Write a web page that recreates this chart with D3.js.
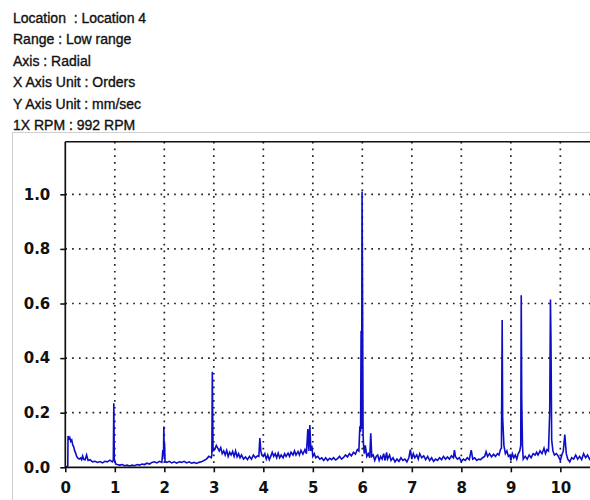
<!DOCTYPE html>
<html>
<head>
<meta charset="utf-8">
<script src="https://cdn.jsdelivr.net/npm/d3@7"></script>
<style>
  html, body { margin: 0; padding: 0; background: #fff; }
  svg { display: block; }
</style>
</head>
<body>
<svg id="chart" width="590" height="500"></svg>
<script>
// Header lines shown above the spectrum
const headerLines = [
  "Location  : Location 4",
  "Range : Low range",
  "Axis : Radial",
  "X Axis Unit : Orders",
  "Y Axis Unit : mm/sec",
  "1X RPM : 992 RPM"
];

// Axis ticks
const xTicks = [0, 1, 2, 3, 4, 5, 6, 7, 8, 9, 10];
const yTicks = [0.0, 0.2, 0.4, 0.6, 0.8, 1.0];

// Velocity spectrum, [order, amplitude mm/sec], split by band
const band0 = [
  [0.00,0.000],[0.03,0.002],[0.05,0.005],[0.055,0.115],[0.07,0.105],[0.09,0.11],[0.11,0.095],
  [0.13,0.1],[0.15,0.082],[0.17,0.075],[0.19,0.06],[0.21,0.052],[0.23,0.04],[0.25,0.034],
  [0.28,0.03],[0.31,0.034],[0.33,0.028],[0.35,0.041],[0.37,0.03],[0.4,0.027],[0.43,0.045],
  [0.46,0.025],[0.5,0.028],[0.55,0.02],[0.6,0.022],[0.65,0.018],[0.7,0.021],[0.75,0.016],
  [0.8,0.022],[0.85,0.02],[0.9,0.026],[0.95,0.02],[0.97,0.025],[0.98,0.235],[0.99,0.03],
  [1.02,0.012],[1.05,0.01],[1.1,0.008],[1.15,0.01],[1.2,0.006],[1.25,0.008],[1.3,0.005],
  [1.35,0.008],[1.4,0.006],[1.45,0.01],[1.5,0.008],[1.55,0.012],[1.6,0.01],[1.65,0.015],
  [1.7,0.012],[1.75,0.018],[1.8,0.02],[1.85,0.016],[1.9,0.022],[1.95,0.018],[1.97,0.06],
  [1.985,0.06],[1.99,0.149],[2.0,0.03],[2.005,0.09],[2.015,0.02]
];
const band1 = [
  [2.05,0.018],[2.1,0.022],[2.15,0.016],[2.2,0.02],[2.25,0.015],[2.3,0.02],[2.35,0.018],
  [2.4,0.022],[2.45,0.016],[2.5,0.02],[2.55,0.015],[2.6,0.018],[2.65,0.014],[2.7,0.018],
  [2.75,0.02],[2.8,0.025],[2.85,0.03],[2.9,0.04],[2.95,0.035],[2.96,0.045],[2.97,0.35],
  [2.985,0.06],[3.02,0.065],[3.05,0.08],[3.08,0.07],[3.11,0.06],[3.14,0.072],[3.17,0.05],
  [3.2,0.06],[3.23,0.045],[3.26,0.062],[3.29,0.04],[3.32,0.055],[3.35,0.045],[3.38,0.058],
  [3.41,0.04],[3.44,0.06],[3.47,0.038],[3.5,0.05],[3.53,0.035],[3.56,0.045],[3.6,0.03],
  [3.64,0.038],[3.68,0.028],[3.72,0.04],[3.76,0.03],[3.8,0.045],[3.84,0.035],[3.88,0.042],
  [3.91,0.04],[3.93,0.107],[3.95,0.06],[3.97,0.045],[4.0,0.04]
];
const band2 = [
  [4.03,0.05],[4.06,0.03],[4.09,0.045],[4.12,0.028],[4.15,0.04],[4.18,0.055],[4.21,0.04],
  [4.24,0.05],[4.27,0.035],[4.3,0.052],[4.33,0.035],[4.36,0.045],[4.4,0.035],[4.43,0.05],
  [4.46,0.04],[4.5,0.052],[4.53,0.04],[4.56,0.055],[4.6,0.045],[4.63,0.06],[4.66,0.045],
  [4.7,0.058],[4.73,0.045],[4.76,0.062],[4.8,0.048],[4.84,0.065],[4.87,0.05],[4.9,0.14],
  [4.92,0.06],[4.94,0.155],[4.96,0.06],[4.98,0.08],[5.0,0.04],[5.03,0.05],[5.06,0.035],
  [5.1,0.04],[5.14,0.03],[5.18,0.035],[5.22,0.025],[5.26,0.035],[5.3,0.025],[5.34,0.033],
  [5.38,0.028],[5.42,0.035],[5.46,0.027],[5.5,0.032],[5.54,0.04],[5.58,0.03],[5.62,0.036],
  [5.66,0.045],[5.7,0.038],[5.74,0.05],[5.78,0.042],[5.82,0.055],[5.86,0.048],[5.9,0.065],
  [5.93,0.06],[5.95,0.15],[5.965,0.13],[5.975,0.5],[5.985,0.14],[5.995,1.01],[6.005,0.58],
  [6.015,0.12],[6.025,0.08],[6.04,0.05],[6.06,0.08],[6.09,0.04],[6.12,0.05],[6.15,0.035],
  [6.17,0.125],[6.19,0.04],[6.22,0.045],[6.25,0.025],[6.28,0.04],[6.31,0.045],[6.34,0.025],
  [6.37,0.04],[6.4,0.03],[6.43,0.05],[6.46,0.025],[6.49,0.055],[6.51,0.03]
];
const band3 = [
  [6.55,0.045],[6.58,0.025],[6.62,0.035],[6.66,0.02],[6.7,0.03],[6.74,0.022],[6.78,0.035],
  [6.82,0.025],[6.86,0.03],[6.9,0.02],[6.94,0.035],[6.97,0.065],[7.0,0.03],[7.03,0.05],
  [7.06,0.035],[7.1,0.045],[7.13,0.03],[7.16,0.05],[7.2,0.035],[7.24,0.042],[7.28,0.028],
  [7.32,0.04],[7.36,0.025],[7.4,0.035],[7.44,0.022],[7.48,0.03],[7.52,0.025],[7.56,0.035],
  [7.6,0.028],[7.64,0.04],[7.68,0.03],[7.72,0.038],[7.76,0.03],[7.8,0.042],[7.84,0.035],
  [7.86,0.063],[7.88,0.04],[7.92,0.03],[7.96,0.035],[8.0,0.022],[8.04,0.03],[8.08,0.025],
  [8.12,0.035],[8.16,0.028],[8.2,0.063],[8.23,0.03],[8.27,0.035],[8.31,0.025],[8.35,0.03],
  [8.39,0.028],[8.43,0.035],[8.47,0.04],[8.5,0.057]
];
const band4 = [
  [8.53,0.04],[8.57,0.05],[8.61,0.038],[8.65,0.048],[8.69,0.04],[8.73,0.05],[8.76,0.045],
  [8.79,0.065],[8.81,0.07],[8.825,0.54],[8.835,0.18],[8.86,0.08],[8.89,0.05],[8.92,0.06],
  [8.95,0.04],[8.98,0.045],[9.0,0.025],[9.03,0.05],[9.06,0.035],[9.09,0.045],[9.12,0.03],
  [9.15,0.05],[9.18,0.06],[9.2,0.08],[9.21,0.63],[9.22,0.25],[9.235,0.08],[9.25,0.03],
  [9.29,0.04],[9.33,0.03],[9.37,0.045],[9.41,0.035],[9.45,0.05],[9.49,0.045],[9.52,0.055],
  [9.55,0.045],[9.59,0.06],[9.63,0.05],[9.67,0.07],[9.7,0.05],[9.73,0.065],[9.76,0.06],
  [9.785,0.2],[9.8,0.615],[9.81,0.48],[9.825,0.1],[9.85,0.06],[9.88,0.045],[9.92,0.05],
  [9.96,0.04],[10.0,0.025],[10.03,0.045],[10.06,0.06],[10.09,0.12],[10.12,0.05],[10.15,0.03],
  [10.19,0.02],[10.23,0.035],[10.27,0.03],[10.31,0.045],[10.35,0.03],[10.39,0.04],[10.43,0.028],
  [10.47,0.05],[10.51,0.035],[10.55,0.045],[10.59,0.03],[10.63,0.04],[10.67,0.035],[10.71,0.04]
];
const spectrum = [...band0, ...band1, ...band2, ...band3, ...band4];

const svg = d3.select("#chart");
const W = 590, H = 500;
svg.append("rect").attr("width", W).attr("height", H).attr("fill", "#fff");

// Header block
svg.append("g")
  .selectAll("text")
  .data(headerLines)
  .join("text")
  .attr("x", 13)
  .attr("y", (d, i) => 22.5 + i * 21.5)
  .attr("font-family", "'Liberation Sans', Arial, sans-serif")
  .attr("font-size", 14)
  .attr("fill", "#111")
  .attr("stroke", "#111")
  .attr("stroke-width", 0.35)
  .style("white-space", "pre")
  .text(d => d);

// Light panel frame around the plot
svg.append("rect")
  .attr("x", 12.5).attr("y", 132.5)
  .attr("width", 700).attr("height", 500)
  .attr("fill", "none")
  .attr("stroke", "#cfcfcf")
  .attr("stroke-width", 1);

const plotLeft = 65.3, plotTop = 141.7, plotBottom = 467.3, plotRight = 595;
const x = d3.scaleLinear().domain([0, 10.7]).range([plotLeft, plotRight]);
const y = d3.scaleLinear().domain([0, 1.1927]).range([plotBottom, plotTop]);

// Dotted grid
const grid = svg.append("g")
  .attr("stroke", "#222")
  .attr("stroke-width", 1.7)
  .attr("stroke-dasharray", "1.7,5.1");
grid.selectAll("line.h")
  .data(yTicks.filter(d => d > 0))
  .join("line")
  .attr("class", "h")
  .attr("x1", plotLeft).attr("x2", W)
  .attr("y1", d => y(d)).attr("y2", d => y(d));
grid.selectAll("line.v")
  .data(xTicks.filter(d => d > 0))
  .join("line")
  .attr("class", "v")
  .attr("x1", d => x(d)).attr("x2", d => x(d))
  .attr("y1", plotTop).attr("y2", plotBottom);

// Spectrum trace
const line = d3.line()
  .x(d => x(d[0]))
  .y(d => y(d[1]));
svg.append("path")
  .datum(spectrum)
  .attr("d", line)
  .attr("fill", "none")
  .attr("stroke", "#0e0ec8")
  .attr("stroke-width", 1.6)
  .attr("stroke-linejoin", "miter");

// Top frame line
svg.append("line")
  .attr("x1", plotLeft).attr("x2", W)
  .attr("y1", plotTop).attr("y2", plotTop)
  .attr("stroke", "#111").attr("stroke-width", 1.5);

// Axes
const axisFont = "'DejaVu Sans', Verdana, sans-serif";
const xAxis = svg.append("g")
  .attr("transform", `translate(0,${plotBottom})`)
  .call(d3.axisBottom(x).tickValues(xTicks).tickFormat(d3.format("d"))
    .tickSize(5).tickSizeOuter(0).tickPadding(10));
const yAxis = svg.append("g")
  .attr("transform", `translate(${plotLeft},0)`)
  .call(d3.axisLeft(y).tickValues(yTicks).tickFormat(d3.format(".1f"))
    .tickSize(5).tickSizeOuter(0).tickPadding(10));

// axis lines run the full plot extent
yAxis.select(".domain").attr("d", `M0,${plotBottom}V${plotTop}`);
xAxis.select(".domain").attr("d", `M${plotLeft},0H${W}`);

[xAxis, yAxis].forEach(g => {
  g.select(".domain").attr("stroke", "#111").attr("stroke-width", 1.7);
  g.selectAll(".tick line").attr("stroke", "#111").attr("stroke-width", 1.6);
  g.selectAll(".tick text")
    .attr("font-family", axisFont)
    .attr("font-weight", "bold")
    .attr("font-size", 15)
    .attr("fill", "#111");
});
</script>
</body>
</html>
